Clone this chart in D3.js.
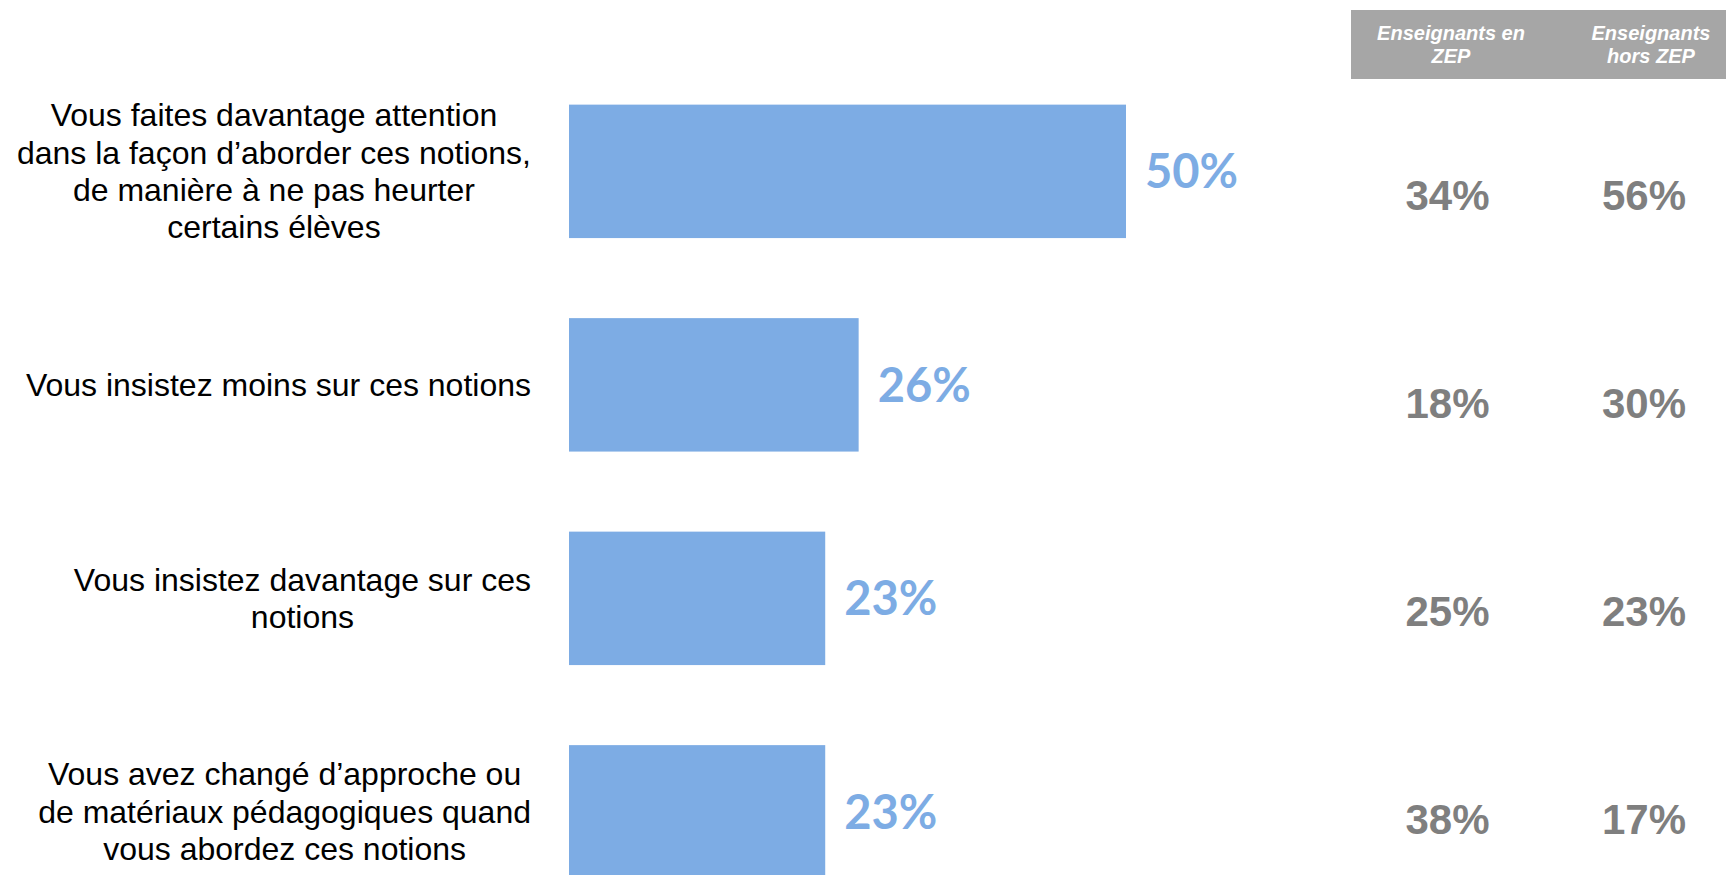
<!DOCTYPE html>
<html>
<head>
<meta charset="utf-8">
<script src="https://cdn.jsdelivr.net/npm/d3@7"></script>
<style>
  body { margin: 0; background: #fff; }
  svg { display: block; }
</style>
</head>
<body>
<div id="chart"></div>
<script>
// data
const categories = [
  ["Vous faites davantage attention", "dans la façon d’aborder ces notions,", "de manière à ne pas heurter", "certains élèves"],
  ["Vous insistez moins sur ces notions"],
  ["Vous insistez davantage sur ces", "notions"],
  ["Vous avez changé d’approche ou", "de matériaux pédagogiques quand", "vous abordez ces notions"]
];
const totals = [50, 26, 23, 23];
const zep = [34, 18, 25, 38];
const horsZep = [56, 30, 23, 17];
const columnTitles = [["Enseignants en", "ZEP"], ["Enseignants", "hors ZEP"]];

const width = 1726, height = 875;

const svg = d3.select("#chart")
  .append("svg")
    .attr("width", width)
    .attr("height", height);

const ids = d3.range(categories.length);

// x scale for the bars
const x = d3.scaleLinear()
  .domain([0, 50])
  .range([569, 1126]);

// y band for the bars
const y = d3.scaleBand()
  .domain(ids)
  .range([64.6, 918.6])
  .paddingInner(0.375)
  .paddingOuter(0.1875);

// table rows sit a bit lower than the bars
const yTable = d3.scalePoint()
  .domain(ids)
  .range([195, 819]);

const xHead = d3.scalePoint()
  .domain([0, 1])
  .range([1451, 1651]);

const xTable = d3.scalePoint()
  .domain([0, 1])
  .range([1447.5, 1644]);

// bars
svg.selectAll("rect.bar")
  .data(totals)
  .enter()
  .append("rect")
    .attr("class", "bar")
    .attr("x", x(0))
    .attr("y", (d, i) => y(i))
    .attr("width", d => x(d) - x(0))
    .attr("height", y.bandwidth())
    .attr("fill", "#7DACE4");

// value labels next to the bars
svg.selectAll("text.val")
  .data(totals)
  .enter()
  .append("text")
    .attr("class", "val")
    .attr("x", d => x(d) + 19)
    .attr("y", (d, i) => y(i) + y.bandwidth() / 2 + 17)
    .attr("fill", "#7DACE4")
    .style("font-family", "Lato, 'Open Sans', sans-serif")
    .style("font-weight", 700)
    .style("font-size", "47px")
    .text(d => d + "%");

// category labels: block right-aligned, lines centred inside it
const labelRight = 531, lineH = 37.4;
categories.forEach(function(lines, i) {
  const g = svg.append("g");
  const cy = y(i) + y.bandwidth() / 2;
  const t = g.selectAll("text")
    .data(lines)
    .enter()
    .append("text")
      .attr("y", (d, k) => cy + (k - (lines.length - 1) / 2) * lineH + 11)
      .attr("text-anchor", "middle")
      .attr("fill", "#000")
      .style("font-family", "'Liberation Sans', Arial, sans-serif")
      .style("font-size", "32px")
      .text(d => d);
  const w = d3.max(t.nodes(), n => n.getComputedTextLength());
  t.attr("x", labelRight - w / 2);
});

// header
svg.append("rect")
  .attr("x", 1351)
  .attr("y", 10)
  .attr("width", width - 1351)
  .attr("height", 69)
  .attr("fill", "#A6A6A6");

columnTitles.forEach(function(lines, c) {
  svg.append("g").selectAll("text")
    .data(lines)
    .enter()
    .append("text")
      .attr("x", xHead(c))
      .attr("y", (d, k) => 40 + k * 23)
      .attr("text-anchor", "middle")
      .attr("fill", "#fff")
      .style("font-family", "'Liberation Sans', Arial, sans-serif")
      .style("font-weight", 700)
      .style("font-style", "italic")
      .style("font-size", "20px")
      .text(d => d);
});

// table values
[zep, horsZep].forEach(function(col, c) {
  svg.append("g").selectAll("text")
    .data(col)
    .enter()
    .append("text")
      .attr("x", xTable(c))
      .attr("y", (d, i) => yTable(i) + 15)
      .attr("text-anchor", "middle")
      .attr("fill", "#7F7F7F")
      .style("font-family", "'Liberation Sans', Arial, sans-serif")
      .style("font-weight", 700)
      .style("font-size", "42px")
      .text(d => d + "%");
});
</script>
</body>
</html>
